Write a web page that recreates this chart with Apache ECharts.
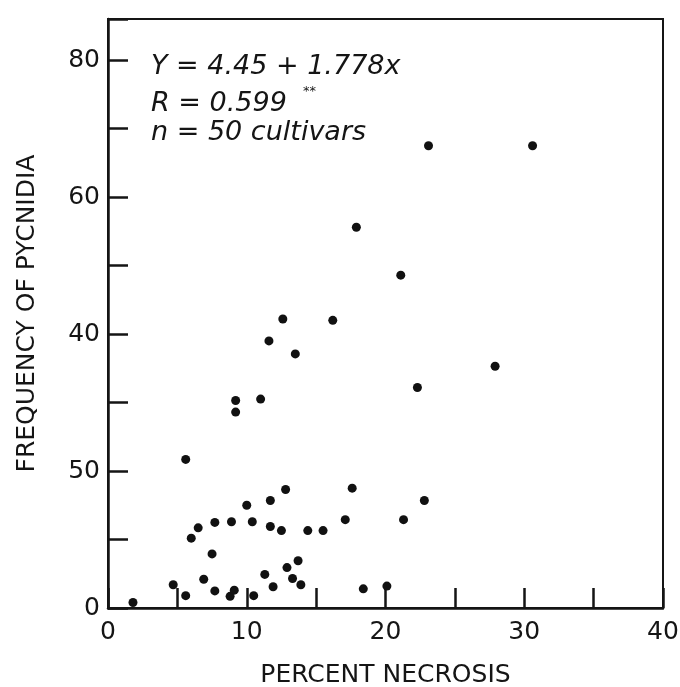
<!DOCTYPE html>
<html>
<head>
<meta charset="utf-8">
<script src="https://cdn.jsdelivr.net/npm/echarts@6/dist/echarts.min.js"></script>
<style>
  html, body { margin: 0; padding: 0; background: #fff; }
  #main { width: 680px; height: 687px; }
</style>
</head>
<body>
<div id="main"></div>
<script>
// percent necrosis (x) of each cultivar
var necrosis = [
  1.8, 4.7, 5.6, 5.6, 6.0, 6.5, 6.9, 7.5, 7.7, 7.7,
  8.9, 8.8, 9.1, 10.0, 10.4, 10.5, 11.3, 11.7, 11.7, 11.9,
  12.8, 12.5, 12.9, 13.3, 13.7, 13.9, 14.4, 15.5, 17.1, 17.6,
  18.4, 20.1, 21.3, 22.8, 12.6, 16.2, 11.6, 13.5, 9.2, 9.2,
  11.0, 23.1, 30.6, 17.9, 21.1, 27.9, 22.3
];
// frequency of pycnidia (y)
var pycnidia = [
  0.8, 3.4, 1.8, 21.7, 10.2, 11.7, 4.2, 7.9, 12.5, 2.5,
  12.6, 1.7, 2.6, 15.0, 12.6, 1.8, 4.9, 15.7, 11.9, 3.1,
  17.3, 11.3, 5.9, 4.3, 6.9, 3.4, 11.3, 11.3, 12.9, 17.5,
  2.8, 3.2, 12.9, 15.7, 42.2, 42.0, 39.0, 37.1, 30.3, 28.6,
  30.5, 67.5, 67.5, 55.6, 48.6, 35.3, 32.2
];
// tick labels as printed on the figure
var xTickLabels = { 0: '0', 10: '10', 20: '20', 30: '30', 40: '40' };
var yTickLabels = { 0: '0', 20: '50', 40: '40', 60: '60', 80: '80' };
var notes = ['Y = 4.45 + 1.778x', 'R = 0.599', 'n = 50 cultivars'];

var points = [];
for (var i = 0; i < necrosis.length; i++) {
  points.push([necrosis[i], pycnidia[i]]);
}

var ink = '#151515';
var noteFont = 'italic 27px "DejaVu Sans"';
var myChart = echarts.init(document.getElementById('main'));
myChart.setOption({
  animation: false,
  grid: {
    left: 108, right: 17, top: 19, bottom: 79,
    outerBoundsMode: 'none',
    show: true, borderColor: ink, borderWidth: 2
  },
  xAxis: {
    type: 'value', min: 0, max: 40, interval: 5,
    name: 'PERCENT NECROSIS', nameLocation: 'middle', nameGap: 55,
    nameTextStyle: { fontFamily: 'DejaVu Sans', fontSize: 25, color: ink },
    axisLine: { lineStyle: { color: ink, width: 2.5 } },
    axisTick: { inside: true, length: 20, lineStyle: { color: ink, width: 2.5 } },
    axisLabel: {
      margin: 12, fontFamily: 'DejaVu Sans', fontSize: 25, color: ink,
      formatter: function (v) { return xTickLabels[v] || ''; }
    },
    splitLine: { show: false }
  },
  yAxis: {
    type: 'value', min: 0, max: 86, interval: 10,
    name: 'FREQUENCY OF PYCNIDIA', nameLocation: 'middle', nameGap: 68,
    nameTextStyle: { fontFamily: 'DejaVu Sans', fontSize: 25, color: ink },
    axisLine: { lineStyle: { color: ink, width: 2.5 } },
    axisTick: { inside: true, length: 20, lineStyle: { color: ink, width: 2.5 } },
    axisLabel: {
      margin: 8, fontFamily: 'DejaVu Sans', fontSize: 25, color: ink,
      formatter: function (v) { return yTickLabels[v] || ''; }
    },
    splitLine: { show: false }
  },
  graphic: [
    { type: 'text', left: 151, top: 53, style: { text: notes[0], font: noteFont, fill: ink } },
    { type: 'text', left: 151, top: 90, style: { text: notes[1], font: noteFont, fill: ink } },
    { type: 'text', left: 303, top: 85, style: { text: '**', font: 'italic 13px "DejaVu Sans"', fill: ink } },
    { type: 'text', left: 151, top: 119, style: { text: notes[2], font: noteFont, fill: ink } }
  ],
  series: [{
    type: 'scatter',
    data: points,
    symbolSize: 9,
    itemStyle: { color: '#111', opacity: 1 }
  }]
});
</script>
</body>
</html>
